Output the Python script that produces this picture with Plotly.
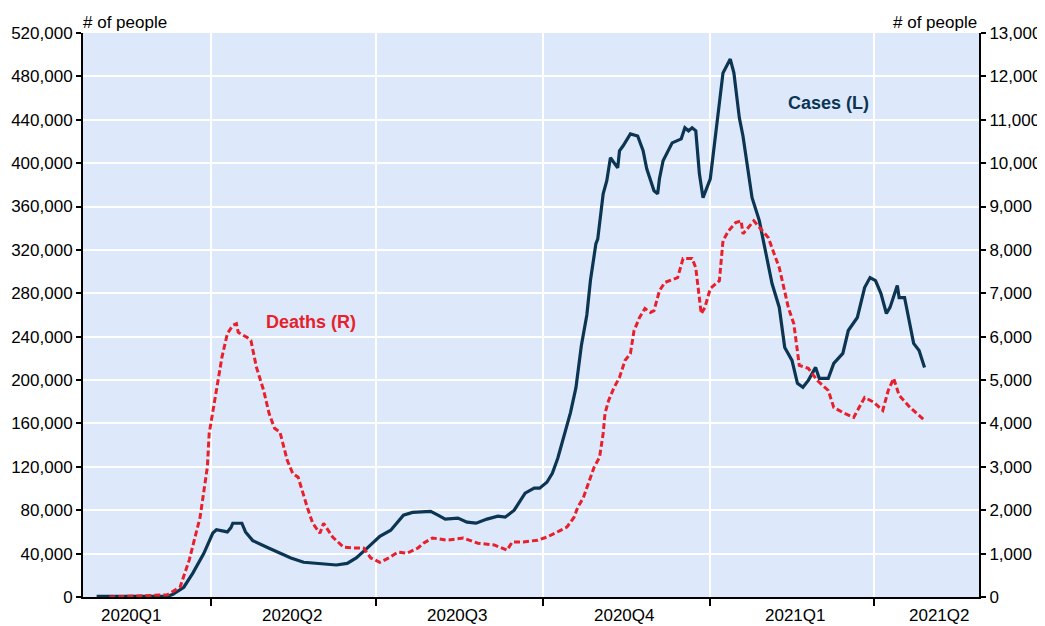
import plotly.graph_objects as go

# ---------------- data ----------------
case_dates = [
    "2020-01-29", "2020-03-08", "2020-03-11", "2020-03-17", "2020-03-22", "2020-03-28",
    "2020-04-02", "2020-04-04", "2020-04-10", "2020-04-12", "2020-04-13", "2020-04-18",
    "2020-04-20", "2020-04-24", "2020-05-03", "2020-05-15", "2020-05-22", "2020-05-29",
    "2020-06-09", "2020-06-15", "2020-06-20", "2020-06-26", "2020-07-03", "2020-07-09",
    "2020-07-13", "2020-07-16", "2020-07-21", "2020-07-31", "2020-08-04", "2020-08-08",
    "2020-08-15", "2020-08-20", "2020-08-25", "2020-08-31", "2020-09-06", "2020-09-10",
    "2020-09-15", "2020-09-21", "2020-09-26", "2020-09-29", "2020-10-03", "2020-10-06",
    "2020-10-09", "2020-10-12", "2020-10-14", "2020-10-16", "2020-10-19", "2020-10-21",
    "2020-10-22", "2020-10-25", "2020-10-27", "2020-10-30", "2020-10-31", "2020-11-03",
    "2020-11-05", "2020-11-07", "2020-11-11", "2020-11-12", "2020-11-14", "2020-11-18",
    "2020-11-22", "2020-11-25", "2020-11-27", "2020-12-01", "2020-12-03", "2020-12-04",
    "2020-12-06", "2020-12-11", "2020-12-16", "2020-12-18", "2020-12-20", "2020-12-22",
    "2020-12-24", "2020-12-26", "2020-12-28", "2021-01-01", "2021-01-05", "2021-01-08",
    "2021-01-12", "2021-01-14", "2021-01-17", "2021-01-19", "2021-01-24", "2021-01-28",
    "2021-02-04", "2021-02-08", "2021-02-11", "2021-02-15", "2021-02-18", "2021-02-21",
    "2021-02-24", "2021-02-28", "2021-03-02", "2021-03-07", "2021-03-10", "2021-03-15",
    "2021-03-18", "2021-03-23", "2021-03-27", "2021-03-30", "2021-04-02", "2021-04-05",
    "2021-04-08", "2021-04-10", "2021-04-14", "2021-04-15", "2021-04-18", "2021-04-20",
    "2021-04-23", "2021-04-26", "2021-04-29",
]
case_values = [
    500, 500, 2500, 9000, 22000, 40000,
    59000, 62000, 60000, 64000, 68000, 68000,
    60000, 52000, 45000, 36000, 32000, 31000,
    29500, 31000, 36000, 45000, 56000, 61600,
    69000, 75500, 78000, 79000, 75500, 71800,
    72700, 69000, 68100, 71800, 74500, 73600,
    80000, 95700, 100300, 100300, 105800, 114000,
    128000, 146000, 158000, 170000, 193000, 221000,
    232000, 260000, 292000, 325800, 330000, 371800,
    383800, 405000, 395700, 411400, 416000, 427000,
    425000, 411400, 394800, 374600, 371800, 385600,
    402200, 418700, 422400, 432600, 429800, 432600,
    429800, 390200, 368100, 385600, 439000, 483200,
    496000, 483200, 441800, 425000, 368100, 347000,
    289000, 267000, 230000, 218100, 197000, 193300,
    199700, 211700, 201600, 201600, 215400, 224600,
    245700, 257700, 285300, 294500, 291700, 279800,
    261400, 267000, 287100, 276100, 276100, 257700,
    233800, 227300, 211700,
]

death_dates = [
    "2020-02-05", "2020-03-08", "2020-03-15", "2020-03-20", "2020-03-26", "2020-03-30",
    "2020-03-31", "2020-04-04", "2020-04-07", "2020-04-10", "2020-04-13", "2020-04-15",
    "2020-04-16", "2020-04-21", "2020-04-23", "2020-04-26", "2020-04-30", "2020-05-03",
    "2020-05-06", "2020-05-09", "2020-05-13", "2020-05-16", "2020-05-19", "2020-05-24",
    "2020-05-27", "2020-05-31", "2020-06-02", "2020-06-07", "2020-06-13", "2020-06-18",
    "2020-06-24", "2020-06-28", "2020-07-03", "2020-07-08", "2020-07-13", "2020-07-18",
    "2020-07-24", "2020-07-27", "2020-08-01", "2020-08-09", "2020-08-18", "2020-08-26",
    "2020-09-04", "2020-09-11", "2020-09-14", "2020-09-20", "2020-09-28", "2020-10-03",
    "2020-10-09", "2020-10-14", "2020-10-18", "2020-10-20", "2020-10-23", "2020-10-26",
    "2020-10-29", "2020-11-01", "2020-11-03", "2020-11-04", "2020-11-06", "2020-11-09",
    "2020-11-12", "2020-11-15", "2020-11-18", "2020-11-20", "2020-11-23", "2020-11-26",
    "2020-11-29", "2020-12-01", "2020-12-04", "2020-12-07", "2020-12-14", "2020-12-17",
    "2020-12-22", "2020-12-24", "2020-12-27", "2020-12-29", "2021-01-01", "2021-01-06",
    "2021-01-08", "2021-01-11", "2021-01-15", "2021-01-18", "2021-01-19", "2021-01-25",
    "2021-02-02", "2021-02-05", "2021-02-08", "2021-02-13", "2021-02-16", "2021-02-19",
    "2021-02-24", "2021-03-01", "2021-03-07", "2021-03-10", "2021-03-16", "2021-03-21",
    "2021-03-27", "2021-04-01", "2021-04-06", "2021-04-09", "2021-04-12", "2021-04-15",
    "2021-04-21", "2021-04-29",
]
death_values = [
    0, 50, 230, 850, 1840, 3000,
    3770, 4830, 5520, 6070, 6260, 6300,
    6100, 5980, 5910, 5300, 4760, 4230,
    3890, 3800, 3150, 2850, 2760, 2070,
    1700, 1470, 1700, 1380, 1150, 1130,
    1130, 900, 800, 900, 1035, 1010,
    1130, 1240, 1360, 1310, 1360, 1240,
    1200, 1080, 1270, 1270, 1310, 1380,
    1500, 1610, 1840, 2070, 2280, 2620,
    2990, 3220, 3770, 4230, 4530, 4830,
    5060, 5450, 5610, 6140, 6440, 6650,
    6560, 6600, 7060, 7250, 7360, 7800,
    7800, 7590, 6530, 6670, 7110, 7290,
    8210, 8440, 8630, 8670, 8370, 8670,
    8280, 7930, 7590, 6670, 6300, 5340,
    5270, 4990, 4760, 4370, 4230, 4140,
    4600, 4490, 4300, 4760, 5040, 4650,
    4370, 4070,
]

quarter_bounds = ["2020-04-01", "2020-07-01", "2020-10-01", "2021-01-01", "2021-04-01"]
quarter_labels = ["2020Q1", "2020Q2", "2020Q3", "2020Q4", "2021Q1", "2021Q2"]
quarter_label_dates = ["2020-02-17", "2020-05-16", "2020-08-15", "2020-11-15", "2021-02-17", "2021-05-07"]

left_ticks = list(range(0, 520001, 40000))
right_ticks = list(range(0, 13001, 1000))

# ---------------- styles ----------------
NAVY = "#0b3553"
RED = "#e8202b"
BG = "#dde9fa"
FONT = "Liberation Sans, Arial, sans-serif"

fig = go.Figure()
fig.add_trace(go.Scatter(x=case_dates, y=case_values, mode="lines", name="Cases (L)",
                         line=dict(color=NAVY, width=3.2), yaxis="y"))
fig.add_trace(go.Scatter(x=death_dates, y=death_values, mode="lines", name="Deaths (R)",
                         line=dict(color=RED, width=3, dash="6px,3px"), yaxis="y2"))

annotations = []
for lab, d in zip(quarter_labels, quarter_label_dates):
    annotations.append(dict(x=d, y=0, xref="x", yref="paper", text=lab, showarrow=False,
                            xanchor="center", yanchor="top", yshift=-7,
                            font=dict(family=FONT, size=17, color="black")))
annotations += [
    dict(x=0, y=1, xref="paper", yref="paper", text="# of people", showarrow=False,
         xanchor="left", yanchor="bottom", xshift=-2, yshift=-1,
         font=dict(family=FONT, size=17, color="black")),
    dict(x=1, y=1, xref="paper", yref="paper", text="# of people", showarrow=False,
         xanchor="right", yanchor="bottom", yshift=-1,
         font=dict(family=FONT, size=17, color="black")),
    dict(x="2021-03-07", y=455600, xref="x", yref="y", text="<b>Cases (L)</b>", showarrow=False,
         xanchor="center", yanchor="middle", font=dict(family=FONT, size=18, color=NAVY)),
    dict(x="2020-05-26", y=253100, xref="x", yref="y", text="<b>Deaths (R)</b>", showarrow=False,
         xanchor="center", yanchor="middle", font=dict(family=FONT, size=18, color=RED)),
]

# page body has an 8px margin, so the figure is sized/offset to compensate
fig.update_layout(
    width=1037, height=618,
    margin=dict(l=75, r=66, t=25, b=29, autoexpand=False),
    paper_bgcolor="white", plot_bgcolor=BG,
    showlegend=False,
    font=dict(family=FONT, size=17, color="black"),
    xaxis=dict(
        type="date", range=["2020-01-21 12:00", "2021-05-29"],
        tickmode="array", tickvals=quarter_bounds, ticktext=[""] * len(quarter_bounds),
        ticks="outside", ticklen=7, tickwidth=2, tickcolor="black",
        showgrid=True, gridcolor="white", gridwidth=2,
        showline=True, linecolor="black", linewidth=2,
        zeroline=False, showticklabels=False,
    ),
    yaxis=dict(
        range=[0, 520000], tickmode="array", tickvals=left_ticks,
        tickformat=",d", ticks="outside", ticklen=5, tickwidth=1.5, tickcolor="black",
        showgrid=True, gridcolor="white", gridwidth=2,
        showline=True, linecolor="black", linewidth=2, zeroline=False,
        tickfont=dict(family=FONT, size=17, color="black"),
    ),
    yaxis2=dict(
        range=[0, 13000], overlaying="y", side="right", tickmode="array", tickvals=right_ticks,
        tickformat=",d", ticks="outside", ticklen=5, tickwidth=1.5, tickcolor="black",
        showgrid=False, showline=True, linecolor="black", linewidth=2, zeroline=False,
        tickfont=dict(family=FONT, size=17, color="black"),
    ),
    annotations=annotations,
)

fig.write_html("out.html")
